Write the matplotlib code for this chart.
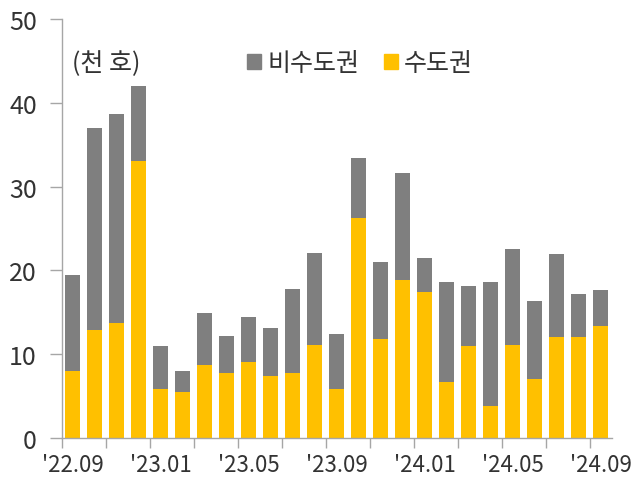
import matplotlib
matplotlib.use('Agg')
import matplotlib.pyplot as plt
from matplotlib.patches import Patch
import numpy as np

plt.rcParams['font.family'] = ['Noto Sans CJK KR', 'DejaVu Sans']
plt.rcParams['font.weight'] = 'light'

# Data (천 호)
months = ["'22.09", "'22.10", "'22.11", "'22.12", "'23.01", "'23.02", "'23.03", "'23.04",
          "'23.05", "'23.06", "'23.07", "'23.08", "'23.09", "'23.10", "'23.11", "'23.12",
          "'24.01", "'24.02", "'24.03", "'24.04", "'24.05", "'24.06", "'24.07", "'24.08",
          "'24.09"]
capital = [8.0, 12.9, 13.7, 33.1, 5.8, 5.5, 8.7, 7.7, 9.0, 7.4, 7.7, 11.1, 5.8,
           26.2, 11.8, 18.8, 17.4, 6.7, 11.0, 3.8, 11.1, 7.0, 12.0, 12.0, 13.4]
total = [19.4, 37.0, 38.6, 42.0, 11.0, 8.0, 14.9, 12.2, 14.4, 13.1, 17.8, 22.1, 12.4,
         33.4, 21.0, 31.6, 21.5, 18.6, 18.1, 18.6, 22.6, 16.3, 22.0, 17.2, 17.6]
non_capital = [t - c for t, c in zip(total, capital)]

yellow = '#FFC000'
grey = '#7F7F7F'
axis_col = '#A6A6A6'
text_col = '#333333'

fig = plt.figure(figsize=(6.38, 4.85), dpi=100)
ax = fig.add_axes([0.097, 0.095, 0.862, 0.864])

x = np.arange(len(months))
w = 0.68
ax.bar(x, capital, w, color=yellow, label='수도권')
ax.bar(x, non_capital, w, bottom=capital, color=grey, label='비수도권')

ax.set_xlim(-0.5, len(months) - 0.5)
ax.set_ylim(0, 50)
ax.set_yticks([0, 10, 20, 30, 40, 50])

label_pos = x[::4]
ax.set_xticks(label_pos)
ax.set_xticklabels([months[i] for i in label_pos])
ax.set_xticks(np.arange(-0.5, len(months) - 1, 2), minor=True)

ax.tick_params(axis='x', which='major', length=0, pad=11, labelsize=16, labelcolor=text_col)
ax.tick_params(axis='x', which='minor', length=7, width=1, color=axis_col, direction='out')
ax.tick_params(axis='y', length=9, width=1, color=axis_col, pad=9, labelsize=18,
               labelcolor=text_col)

for s in ['top', 'right']:
    ax.spines[s].set_visible(False)
for s in ['left', 'bottom']:
    ax.spines[s].set_color(axis_col)
    ax.spines[s].set_linewidth(1)

ax.text(0.019, 0.895, '(천 호)', transform=ax.transAxes, fontsize=18, color=text_col,
        va='center', ha='left')

handles = [Patch(color=grey, label='비수도권'), Patch(color=yellow, label='수도권')]
ax.legend(handles=handles, loc='center left', bbox_to_anchor=(0.337, 0.895), ncol=2,
          frameon=False, fontsize=18, handlelength=0.55, handleheight=0.55,
          handletextpad=0.25, columnspacing=1.0, borderaxespad=0, borderpad=0,
          labelcolor=text_col)

fig.savefig('out.png', dpi=100)
